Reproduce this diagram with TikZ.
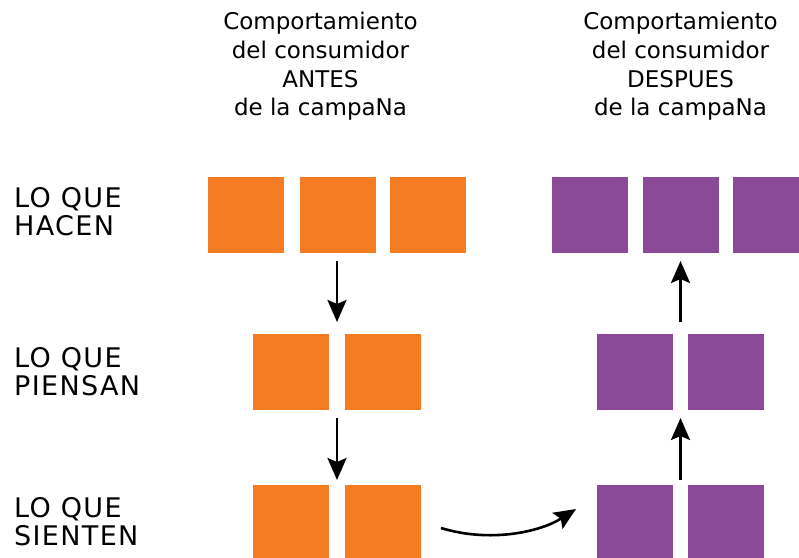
\documentclass[tikz,border=0pt]{standalone}
\usepackage{fontspec}
\setmainfont{DejaVu Sans}
\newfontfamily\labelfont[LetterSpace=5]{DejaVu Sans}
\usetikzlibrary{arrows.meta,calc}
\definecolor{orangebox}{RGB}{245,124,34}
\definecolor{purplebox}{RGB}{139,74,152}
\begin{document}
\begin{tikzpicture}[x=1pt,y=-1pt,
  obox/.style={fill=orangebox,draw=none,minimum size=76pt,inner sep=0pt,outer sep=0pt},
  pbox/.style={fill=purplebox,draw=none,minimum size=76pt,inner sep=0pt,outer sep=0pt},
  title/.style={align=center,anchor=north,inner sep=0pt,font=\fontsize{23}{28.7}\selectfont},
  rowlabel/.style={align=left,anchor=north west,inner sep=0pt,font=\labelfont\fontsize{27}{28}\selectfont},
  flow/.style={line width=2.6pt,-{Stealth[length=22pt,width=19pt,inset=4pt]}}
]
\useasboundingbox (0,0) rectangle (799,557);
\clip (0,0) rectangle (799,557);
% titles
\node[title] (t1) at (320.5,12) {Comportamiento\\del consumidor\\ANTES\\de la campaNa};
\node[title] (t2) at (680.5,12) {Comportamiento\\del consumidor\\DESPUES\\de la campaNa};
% row labels
\node[rowlabel] (l1) at (14,187) {LO QUE\\HACEN};
\node[rowlabel] (l2) at (14,347) {LO QUE\\PIENSAN};
\node[rowlabel] (l3) at (14,497) {LO QUE\\SIENTEN};
% orange boxes
\node[obox] (o11) at (246,215) {};
\node[obox] (o12) at (338,215) {};
\node[obox] (o13) at (428,215) {};
\node[obox] (o21) at (291,372) {};
\node[obox] (o22) at (383,372) {};
\node[obox] (o31) at (291,523) {};
\node[obox] (o32) at (383,523) {};
% purple boxes
\node[pbox] (p11) at (590,215) {};
\node[pbox] (p12) at (681,215) {};
\node[pbox] (p13) at (771,215) {};
\node[pbox] (p21) at (635,372) {};
\node[pbox] (p22) at (726,372) {};
\node[pbox] (p31) at (635,523) {};
\node[pbox] (p32) at (726,523) {};
% gap coordinates
\coordinate (og2) at ($(o21.north east)!.5!(o22.north west)$);
\coordinate (og3) at ($(o31.north east)!.5!(o32.north west)$);
\coordinate (pg2) at ($(p21.north east)!.5!(p22.north west)$);
\coordinate (pg3) at ($(p31.north east)!.5!(p32.north west)$);
% arrows
\draw[flow] ($(og2 |- o12.south)+(0,8)$) -- ($(og2)+(0,-12)$);
\draw[flow] ($(og3 |- o21.south)+(0,8)$) -- ($(og3)+(0,-5)$);
\draw[flow] ($(pg3)+(0,-5)$) -- ($(pg3 |- p21.south)+(0,8)$);
\draw[flow] ($(pg2)+(0,-12)$) -- ($(pg2 |- p12.south)+(0,8)$);
\draw[flow] ($(o32.east)+(20,5)$) .. controls (490,543) and (540,532) .. ($(p31.west)+(-21,-14)$);
\end{tikzpicture}
\end{document}
